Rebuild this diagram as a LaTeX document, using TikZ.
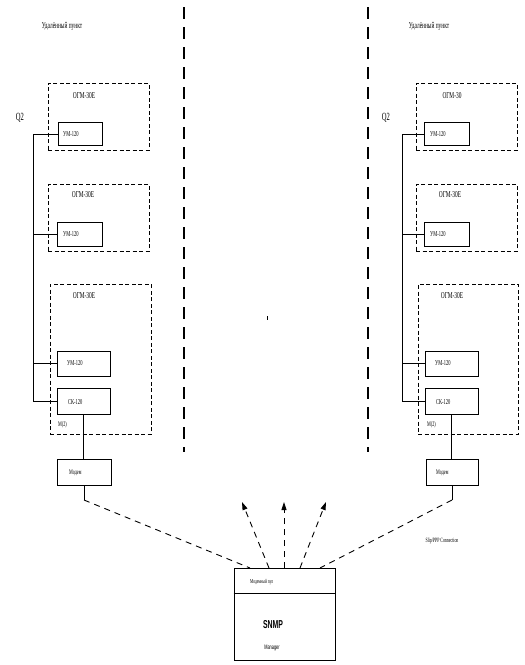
\documentclass[tikz,border=0pt]{standalone}
\usepackage{fontspec}
\newfontfamily\nar[FakeStretch=0.6]{Liberation Serif}
\newfontfamily\narsans[FakeStretch=0.6]{Liberation Sans}
\usetikzlibrary{arrows.meta}
\begin{document}
\begin{tikzpicture}[x=1pt,y=-1pt,
  grp/.style={draw, line width=0.9pt, dash pattern=on 4pt off 2.5pt, inner sep=0},
  unitbox/.style={draw, line width=0.9pt, inner sep=0},
  wire/.style={line width=0.9pt},
  sep/.style={line width=1.1pt, dash pattern=on 12pt off 8pt},
  conn/.style={line width=0.9pt, dash pattern=on 6pt off 5pt},
  arr/.style={line width=0.9pt, dash pattern=on 6pt off 5pt, -{Triangle[length=8pt,width=5pt]}},
  lbl/.style={inner sep=0, font=\nar\fontsize{9}{10}\selectfont},
  ulbl/.style={inner sep=0, anchor=west, font=\nar\fontsize{7.5}{8}\selectfont},
  slbl/.style={inner sep=0, anchor=west, font=\nar\fontsize{7}{8}\selectfont},
]
\useasboundingbox (0,0) rectangle (525,665);

% separators
\coordinate (s1t) at (184,7); \coordinate (s1b) at (184,452);
\coordinate (s2t) at (368,7); \coordinate (s2b) at (368,452);
\draw[sep] (s1t) -- (s1b);
\draw[sep] (s2t) -- (s2b);
\coordinate (tick1) at (267,316); \coordinate (tick2) at (267,320);
\draw[line width=0.8pt] (tick1) -- (tick2);

% ---------- left column ----------
\node[lbl] (remL) at (62,26) {Удалённый пункт};
\node[inner sep=0, font=\nar\fontsize{11}{12}\selectfont] (q2L) at (20,118) {Q2};

\node[grp, minimum width=101pt, minimum height=67pt] (ogmL1) at (98.5,116.5) {};
\node[lbl] (ogmL1t) at (84,96) {ОГМ-30Е};
\node[unitbox, minimum width=44pt, minimum height=23pt] (umL1) at (80,134) {};
\node[ulbl] (umL1t) at (63,134) {УМ-120};

\node[grp, minimum width=101pt, minimum height=67pt] (ogmL2) at (98.5,217.5) {};
\node[lbl] (ogmL2t) at (83,195) {ОГМ-30Е};
\node[unitbox, minimum width=45pt, minimum height=24pt] (umL2) at (79.5,234) {};
\node[ulbl] (umL2t) at (63,234) {УМ-120};

\node[grp, minimum width=101pt, minimum height=150pt] (ogmL3) at (100.5,359) {};
\node[lbl] (ogmL3t) at (84,296) {ОГМ-30Е};
\node[unitbox, minimum width=53pt, minimum height=25pt] (umL3) at (83.5,363.5) {};
\node[ulbl] (umL3t) at (67,363) {УМ-120};
\node[unitbox, minimum width=53pt, minimum height=26pt] (ckL3) at (83.5,401) {};
\node[ulbl] (ckL3t) at (68,402) {СК-120};
\node[slbl] (mL) at (58,425) {М(2)};

\node[unitbox, minimum width=54pt, minimum height=26pt] (modemL) at (84,472) {};
\node[slbl] (modemLt) at (69,473) {Модем};

\coordinate (busL) at (33,0);
\draw[wire] (umL1.west) -- (umL1.west -| busL) -- (ckL3.west -| busL) -- (ckL3.west);
\draw[wire] (umL2.west) -- (umL2.west -| busL);
\draw[wire] (umL3.west) -- (umL3.west -| busL);
\draw[wire] (ckL3.south) -- (ckL3.south |- modemL.north);
\coordinate (jL) at (84,500);
\draw[wire] (modemL.south) -- (jL);

% ---------- right column ----------
\node[lbl] (remR) at (429,26) {Удалённый пункт};
\node[inner sep=0, font=\nar\fontsize{11}{12}\selectfont] (q2R) at (386,118) {Q2};

\node[grp, minimum width=101pt, minimum height=67pt] (ogmR1) at (466.5,116.5) {};
\node[lbl] (ogmR1t) at (452,96) {ОГМ-30};
\node[unitbox, minimum width=45pt, minimum height=23pt] (umR1) at (446.5,134) {};
\node[ulbl] (umR1t) at (430,134) {УМ-120};

\node[grp, minimum width=101pt, minimum height=67pt] (ogmR2) at (466.5,217.5) {};
\node[lbl] (ogmR2t) at (450,195) {ОГМ-30Е};
\node[unitbox, minimum width=45pt, minimum height=24pt] (umR2) at (446.5,234) {};
\node[ulbl] (umR2t) at (430,234) {УМ-120};

\node[grp, minimum width=100pt, minimum height=150pt] (ogmR3) at (468,359) {};
\node[lbl] (ogmR3t) at (452,296) {ОГМ-30Е};
\node[unitbox, minimum width=53pt, minimum height=25pt] (umR3) at (451.5,363.5) {};
\node[ulbl] (umR3t) at (435,363) {УМ-120};
\node[unitbox, minimum width=53pt, minimum height=26pt] (ckR3) at (451.5,401) {};
\node[ulbl] (ckR3t) at (436,402) {СК-120};
\node[slbl] (mR) at (427,425) {М(2)};

\node[unitbox, minimum width=52pt, minimum height=26pt] (modemR) at (452,472) {};
\node[slbl] (modemRt) at (436,473) {Модем};

\coordinate (busR) at (402,0);
\draw[wire] (umR1.west) -- (umR1.west -| busR) -- (ckR3.west -| busR) -- (ckR3.west);
\draw[wire] (umR2.west) -- (umR2.west -| busR);
\draw[wire] (umR3.west) -- (umR3.west -| busR);
\draw[wire] (ckR3.south) -- (ckR3.south |- modemR.north);
\coordinate (jR) at (452,500);
\draw[wire] (modemR.south) -- (jR);

\node[inner sep=0, font=\nar\fontsize{6.5}{7}\selectfont] (slip) at (442,541) {Slip/PPP Connection};

% ---------- manager ----------
\node[unitbox, minimum width=101pt, minimum height=92pt] (snmp) at (284.5,614) {};
\coordinate (divy) at (0,593);
\draw[wire] (snmp.west |- divy) -- (snmp.east |- divy);
\node[inner sep=0, anchor=west, font=\nar\fontsize{6}{7}\selectfont] (pool) at (250,582) {Модемный пул};
\node[inner sep=0, font=\narsans\bfseries\fontsize{11.5}{12}\selectfont] (snmpt) at (273,625) {SNMP};
\node[inner sep=0, font=\narsans\fontsize{6.5}{7}\selectfont] (mgr) at (272,648) {Manager};

\coordinate (sL) at (250,568);
\coordinate (sR) at (320,568);
\draw[conn] (jL) -- (sL);
\draw[conn] (jR) -- (sR);

\coordinate (a1s) at (269,568); \coordinate (a1e) at (242,502);
\coordinate (a2s) at (284,568); \coordinate (a2e) at (284,502);
\coordinate (a3s) at (300,568); \coordinate (a3e) at (326,502);
\draw[arr] (a1s) -- (a1e);
\draw[arr] (a2s) -- (a2e);
\draw[arr] (a3s) -- (a3e);
\end{tikzpicture}
\end{document}
